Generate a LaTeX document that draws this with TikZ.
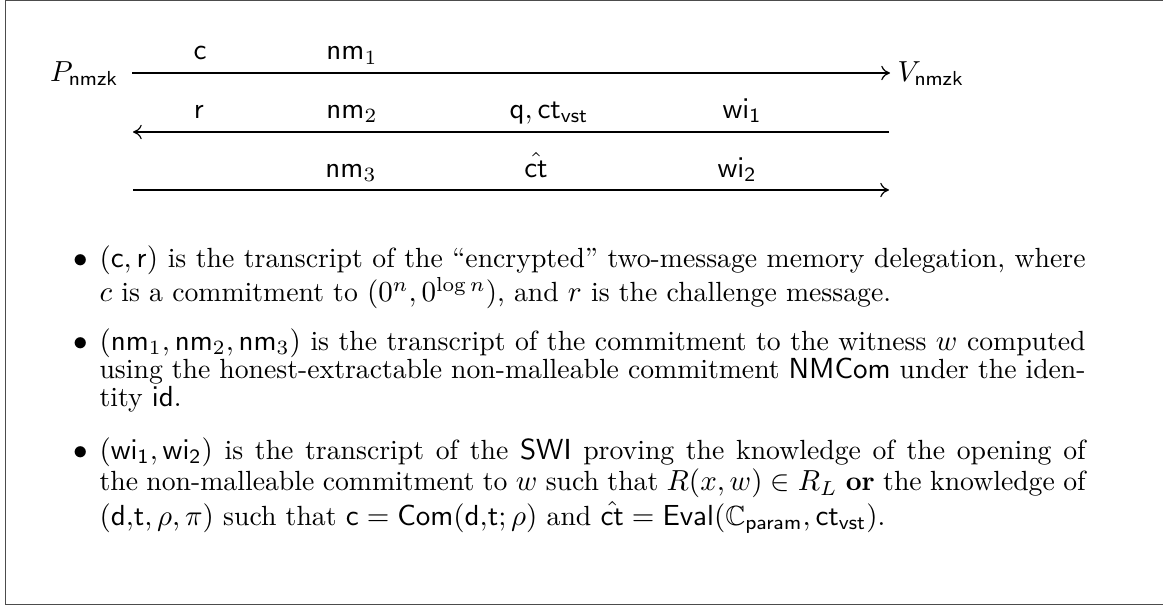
\documentclass[tikz,border=0pt]{standalone}
\usepackage{amsmath,amssymb}
\usetikzlibrary{arrows.meta}
\tikzset{
  frameline/.style={draw=black!70, line width=0.6pt},
  msg/.style={draw, line width=0.4pt, -{To[length=3pt,width=5pt]}},
  lbl/.style={anchor=base, inner sep=0pt},
  party/.style={inner sep=0pt},
  bul/.style={anchor=base, inner sep=0pt, font=\fontsize{9.56}{9.8}\selectfont},
  itemtext/.style={anchor=base west, inner sep=0pt, text width=340pt, align=justify,
    font=\fontsize{9.56}{9.8}\selectfont}
}
\begin{document}
\begin{tikzpicture}[x=0.3448pt, y=-0.3448pt]
\useasboundingbox (0,0) rectangle (1163,606);
% frame (right side cropped)
\draw[frameline] (1163,0.3) -- (5.5,0.3) -- (5.5,604.5) -- (1163,604.5);
% parties
\node[party, anchor=base east] (P) at (119,81) {$P_{\mathsf{nmzk}}$};
\node[party, anchor=base west] (V) at (897,81) {$V_{\mathsf{nmzk}}$};
% arrow end points
\coordinate (a1s) at (132,73);  \coordinate (a1e) at (890,73);
\coordinate (a2s) at (889,132); \coordinate (a2e) at (133,132);
\coordinate (a3s) at (133,190); \coordinate (a3e) at (889,190);
\draw[msg] (a1s) -- (a1e);
\draw[msg] (a2s) -- (a2e);
\draw[msg] (a3s) -- (a3e);
% labels
\node[lbl] (lc)   at (200,60)  {$\mathsf{c}$};
\node[lbl] (lnm1) at (352,60)  {$\mathsf{nm}_1$};
\node[lbl] (lr)   at (199,118) {$\mathsf{r}$};
\node[lbl] (lnm2) at (352,118) {$\mathsf{nm}_2$};
\node[lbl] (lq)   at (549,118) {$\mathsf{q},\mathsf{ct}_{\mathsf{vst}}$};
\node[lbl] (lwi1) at (742,118) {$\mathsf{wi}_{\mathsf{1}}$};
\node[lbl] (lnm3) at (351,177) {$\mathsf{nm}_3$};
\node[lbl] (lct)  at (536,177) {$\hat{\mathsf{ct}}$};
\node[lbl] (lwi2) at (737,177) {$\mathsf{wi}_{\mathsf{2}}$};
% bullets
\node[bul] (b1) at (81,267) {$\bullet$};
\node[bul] (b2) at (81,350) {$\bullet$};
\node[bul] (b3) at (81,459) {$\bullet$};
\node[itemtext] (t1) at (99,267) {$(\mathsf{c},\mathsf{r})$ is the transcript of the ``encrypted'' two-message memory delegation, where $c$ is a commitment to $(0^n,0^{\log n})$, and $r$ is the challenge message.};
\node[itemtext] (t2) at (99,350) {$(\mathsf{nm}_1,\mathsf{nm}_2,\mathsf{nm}_3)$ is the transcript of the commitment to the witness $w$ computed using the honest-extractable non-malleable commitment $\mathsf{NMCom}$ under the identity $\mathsf{id}$.};
\node[itemtext] (t3) at (99,459) {$(\mathsf{wi}_{\mathsf{1}},\mathsf{wi}_{\mathsf{2}})$ is the transcript of the $\mathsf{SWI}$ proving the knowledge of the opening of the non-malleable commitment to $w$ such that $R(x,w)\in R_L$ \textbf{or} the knowledge of $(\mathsf{d{,}t},\rho,\pi)$ such that $\mathsf{c}=\mathsf{Com}(\mathsf{d{,}t};\rho)$ and $\hat{\mathsf{ct}}=\mathsf{Eval}(\mathbb{C}_{\mathsf{param}},\mathsf{ct}_{\mathsf{vst}})$.};
\end{tikzpicture}
\end{document}
